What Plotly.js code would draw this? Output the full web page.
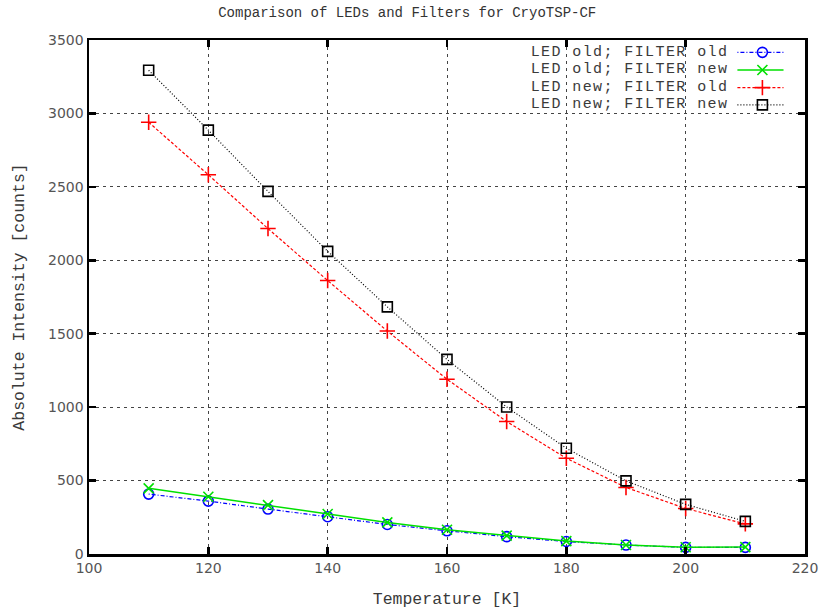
<!DOCTYPE html>
<html>
<head>
<meta charset="utf-8">
<script src="https://cdn.plot.ly/plotly-3.0.1.min.js"></script>
<style>
  html, body { margin: 0; padding: 0; background: #fff; }
  #chart { width: 821px; height: 612px; }
  /* widen the key labels a little so the smaller font keeps the same run length */
  #chart .annotation-text { letter-spacing: 1.4px; }
</style>
</head>
<body>
<div id="chart"></div>
<script>
// Temperature sweep [K]
const temperature = [110, 120, 130, 140, 150, 160, 170, 180, 190, 200, 210];

// Absolute intensity [counts] per LED / filter combination
const ledOldFilterOld = [408, 360, 306, 254, 201, 158, 118, 85, 61, 45, 45];
const ledOldFilterNew = [447, 390, 333, 272, 215, 165, 125, 88, 61, 46, 47];
const ledNewFilterOld = [2940, 2582, 2216, 1862, 1518, 1190, 902, 652, 453, 310, 205];
const ledNewFilterNew = [3294, 2886, 2469, 2061, 1683, 1325, 1001, 720, 498, 338, 222];

const seriesNames = [
  'LED old; FILTER old',
  'LED old; FILTER new',
  'LED new; FILTER old',
  'LED new; FILTER new'
];

const xTicks = [100, 120, 140, 160, 180, 200, 220];
const yTicks = [0, 500, 1000, 1500, 2000, 2500, 3000, 3500];

const mono = 'Liberation Mono, Courier New, monospace';
const styles = [
  { color: '#0000ff', dash: '1px,2px,4px,2px', width: 1.2, symbol: 'circle-open', size: 10 },
  { color: '#00e000', dash: 'solid',           width: 1.5, symbol: 'x-thin-open', size: 10 },
  { color: '#ff0000', dash: '3px,2px',         width: 1.2, symbol: 'cross-thin-open', size: 11 },
  { color: '#000000', dash: '1px,2px',         width: 1.2, symbol: 'square-open', size: 10 }
];
const seriesValues = [ledOldFilterOld, ledOldFilterNew, ledNewFilterOld, ledNewFilterNew];

const traces = seriesValues.map((vals, i) => ({
  x: temperature,
  y: vals,
  name: seriesNames[i],
  type: 'scatter',
  mode: 'lines+markers',
  line: { color: styles[i].color, dash: styles[i].dash, width: styles[i].width },
  marker: {
    symbol: styles[i].symbol,
    size: styles[i].size,
    color: styles[i].color,
    line: { color: styles[i].color, width: 1.6 }
  },
  showlegend: false,
  hoverinfo: 'skip'
}));

// Key: label on the left, line sample with marker on the right (overlay axes 0..1)
const keyRows = [0.976, 0.9417, 0.9073, 0.8737];
const keyTextX = 0.8777, keyLine = [0.9056, 0.97], keyMark = 0.9405;
const annotations = [];
keyRows.forEach((ry, i) => {
  traces.push({
    x: keyLine, y: [ry, ry], xaxis: 'x2', yaxis: 'y2',
    type: 'scatter', mode: 'lines',
    line: { color: styles[i].color, dash: styles[i].dash, width: styles[i].width },
    showlegend: false, hoverinfo: 'skip'
  });
  traces.push({
    x: [keyMark], y: [ry], xaxis: 'x2', yaxis: 'y2',
    type: 'scatter', mode: 'markers',
    marker: {
      symbol: styles[i].symbol, size: styles[i].size, color: styles[i].color,
      line: { color: styles[i].color, width: 1.6 }
    },
    showlegend: false, hoverinfo: 'skip'
  });
  annotations.push({
    xref: 'x2', yref: 'y2', x: keyTextX, y: ry,
    xanchor: 'right', yanchor: 'middle', showarrow: false,
    text: seriesNames[i],
    font: { family: mono, size: 15, color: '#3a3a3a' }
  });
});

const axisCommon = {
  showline: true, linecolor: '#000', linewidth: 2.5, mirror: 'ticks',
  ticks: 'inside', ticklen: 7, tickwidth: 2.5, tickcolor: '#000',
  showgrid: true, gridcolor: '#444', gridwidth: 1, griddash: '3px,4px',
  zeroline: false,
  tickfont: { family: 'DejaVu Sans, sans-serif', size: 14, color: '#555' }
};

const layout = {
  width: 821, height: 612,
  margin: { l: 89, r: 16, t: 40, b: 58 },
  paper_bgcolor: '#fff', plot_bgcolor: '#fff',
  title: {
    text: 'Comparison of LEDs and Filters for CryoTSP-CF',
    font: { family: mono, size: 14, color: '#333' },
    xref: 'container', x: 0.496, xanchor: 'center',
    yref: 'container', y: 0.98, yanchor: 'middle'
  },
  xaxis: Object.assign({}, axisCommon, {
    range: [100, 220], tickvals: xTicks, ticktext: xTicks.map(String),
    title: { text: 'Temperature [K]', font: { family: mono, size: 16.5, color: '#3a3a3a' }, standoff: 17 }
  }),
  yaxis: Object.assign({}, axisCommon, {
    range: [0, 3500], tickvals: yTicks, ticktext: yTicks.map(String),
    title: { text: 'Absolute Intensity [counts]', font: { family: mono, size: 16.5, color: '#3a3a3a' }, standoff: 20 }
  }),
  xaxis2: { overlaying: 'x', range: [0, 1], visible: false, fixedrange: true },
  yaxis2: { overlaying: 'y', range: [0, 1], visible: false, fixedrange: true },
  annotations: annotations,
  showlegend: false
};

Plotly.newPlot('chart', traces, layout, { displayModeBar: false, staticPlot: true });
</script>
</body>
</html>
